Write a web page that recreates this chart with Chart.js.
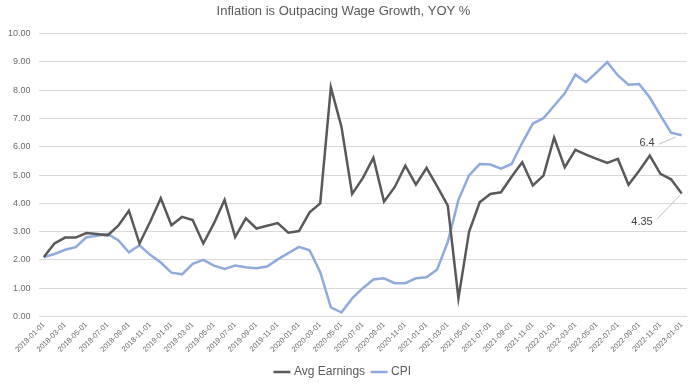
<!DOCTYPE html>
<html lang="en">
<head>
  <meta charset="UTF-8" />
  <title>Inflation is Outpacing Wage Growth</title>
  <script src="https://cdn.jsdelivr.net/npm/chart.js"></script>
  <style>
    html, body {
      margin: 0;
      padding: 0;
      background: #ffffff;
    }
    #wrap {
      width: 693px;
      height: 388px;
    }
  </style>
</head>
<body>

<div id="wrap"><canvas id="inflationChart" width="693" height="388"></canvas></div>

<script>
  // monthly, 2018-01-01 .. 2023-01-01
  const months = [];
  for (let y = 2018; y <= 2023; y++) {
    for (let m = 1; m <= 12; m++) {
      if (y === 2023 && m > 1) break;
      months.push(y + "-" + String(m).padStart(2, "0") + "-01");
    }
  }

  const avgEarnings = [
    2.10, 2.58, 2.79, 2.79, 2.95, 2.92, 2.87, 3.21, 3.74, 2.58, 3.35, 4.18,
    3.23, 3.52, 3.41, 2.58, 3.29, 4.12, 2.81, 3.47, 3.11, 3.21, 3.30, 2.96,
    3.02, 3.68, 4.00, 8.10, 6.70, 4.33, 4.89, 5.61, 4.06, 4.57, 5.33, 4.66,
    5.25, 4.60, 3.92, 0.64, 2.99, 4.04, 4.33, 4.39, 4.94, 5.45, 4.63, 4.98,
    6.32, 5.27, 5.89, 5.72, 5.57, 5.43, 5.57, 4.66, 5.15, 5.69, 5.04, 4.85,
    4.35
  ];

  const cpi = [
    2.10, 2.21, 2.36, 2.45, 2.80, 2.85, 2.92, 2.70, 2.27, 2.52, 2.18, 1.91,
    1.55, 1.49, 1.86, 2.00, 1.80, 1.68, 1.80, 1.74, 1.71, 1.77, 2.02, 2.24,
    2.46, 2.34, 1.57, 0.32, 0.14, 0.64, 1.00, 1.31, 1.35, 1.18, 1.18, 1.35,
    1.39, 1.66, 2.64, 4.12, 4.99, 5.39, 5.37, 5.23, 5.39, 6.14, 6.82, 7.01,
    7.45, 7.89, 8.55, 8.28, 8.63, 8.99, 8.52, 8.19, 8.22, 7.74, 7.11, 6.50,
    6.41
  ];

  const endLabels = ["4.35", "6.4"];

  const ctx = document.getElementById("inflationChart").getContext("2d");

  // last-point callouts with leader lines, like the spreadsheet data labels
  const endLabelPlugin = {
    id: "endLabels",
    afterDatasetsDraw(chart) {
      const c = chart.ctx;
      const xs = chart.scales.x;
      const ys = chart.scales.y;
      const last = months.length - 1;
      const spots = [
        { v: avgEarnings[last], text: endLabels[0], tx: -29, ty: 29, l: [-25, 26, -2, 2] },
        { v: cpi[last], text: endLabels[1], tx: -27, ty: 8, l: [-23, 9, -6, 2] }
      ];
      c.save();
      c.font = "11px 'Liberation Sans', Arial, sans-serif";
      c.fillStyle = "#404040";
      c.textAlign = "right";
      c.textBaseline = "middle";
      c.strokeStyle = "#bfbfbf";
      c.lineWidth = 1;
      spots.forEach(s => {
        const px = xs.getPixelForValue(last);
        const py = ys.getPixelForValue(s.v);
        c.fillText(s.text, px + s.tx, py + s.ty);
        c.beginPath();
        c.moveTo(px + s.l[0], py + s.l[1]);
        c.lineTo(px + s.l[2], py + s.l[3]);
        c.stroke();
      });
      c.restore();
    }
  };

  new Chart(ctx, {
    type: "line",
    data: {
      labels: months,
      datasets: [
        {
          label: "Avg Earnings",
          data: avgEarnings,
          borderColor: "#595959",
          backgroundColor: "#595959",
          borderWidth: 2.5,
          pointRadius: 0,
          tension: 0,
          fill: false
        },
        {
          label: "CPI",
          data: cpi,
          borderColor: "#8faadc",
          backgroundColor: "#8faadc",
          borderWidth: 2.5,
          pointRadius: 0,
          tension: 0,
          fill: false
        }
      ]
    },
    options: {
      responsive: false,
      animation: false,
      layout: {
        padding: { left: 0, right: 6, top: 0, bottom: 0 }
      },
      scales: {
        x: {
          offset: true,
          grid: { display: false, drawTicks: false },
          border: { display: false },
          ticks: {
            autoSkip: false,
            minRotation: 45,
            maxRotation: 45,
            padding: 4,
            color: "#6b6b6b",
            font: { size: 7.5, family: "'Liberation Sans', Arial, sans-serif" },
            callback: function (val, i) {
              return i % 2 === 0 ? months[i] : "";
            }
          }
        },
        y: {
          min: 0,
          max: 10,
          grid: { color: "#d9d9d9", drawTicks: false, lineWidth: 1 },
          border: { display: false },
          ticks: {
            stepSize: 1,
            padding: 8,
            color: "#6b6b6b",
            font: { size: 9, family: "'Liberation Sans', Arial, sans-serif" },
            callback: v => v.toFixed(2)
          }
        }
      },
      plugins: {
        title: {
          display: true,
          text: "Inflation is Outpacing Wage Growth, YOY %",
          color: "#595959",
          font: { size: 13, weight: "normal", family: "'Liberation Sans', Arial, sans-serif" },
          padding: { top: 4, bottom: 14 }
        },
        legend: {
          position: "bottom",
          labels: {
            usePointStyle: true,
            pointStyle: "line",
            boxWidth: 22,
            color: "#595959",
            font: { size: 12, family: "'Liberation Sans', Arial, sans-serif" },
            padding: 8
          }
        },
        tooltip: { enabled: false }
      }
    },
    plugins: [endLabelPlugin]
  });
</script>

</body>
</html>
